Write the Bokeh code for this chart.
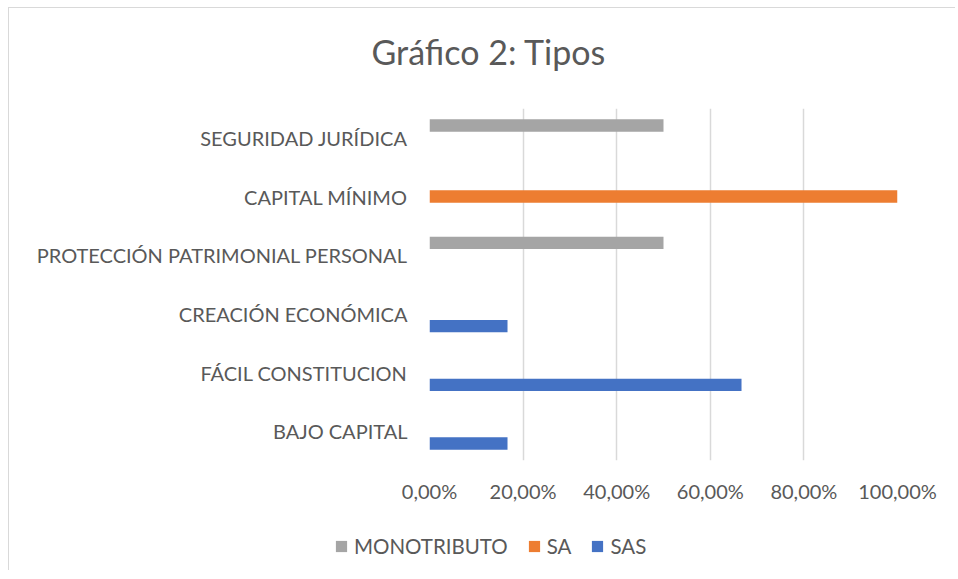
from bokeh.plotting import figure
from bokeh.layouts import column, row
from bokeh.models import ColumnDataSource, FactorRange, Range1d, FixedTicker, Legend, LegendItem, Title
from bokeh.transform import dodge
from bokeh.embed import file_html
from bokeh.resources import INLINE

categories = ["BAJO CAPITAL", "FÁCIL CONSTITUCION", "CREACIÓN ECONÓMICA",
              "PROTECCIÓN PATRIMONIAL PERSONAL", "CAPITAL MÍNIMO", "SEGURIDAD JURÍDICA"]
sas = [16.67, 66.67, 16.67, 0, 0, 0]
sa = [0, 0, 0, 0, 100, 0]
monotributo = [0, 0, 0, 50, 0, 50]
series_names = ["MONOTRIBUTO", "SA", "SAS"]
series_colors = ["#A5A5A5", "#ED7D31", "#4472C4"]
tick_values = [0, 20, 40, 60, 80, 100]
tick_labels = ["0,00%", "20,00%", "40,00%", "60,00%", "80,00%", "100,00%"]
title_text = "Gráfico 2: Tipos"

FONT = "Lato"
TXT = "#595959"

src = ColumnDataSource(dict(cat=categories, SAS=sas, SA=sa, MONOTRIBUTO=monotributo))

p = figure(width=946, height=502, y_range=FactorRange(*categories), x_range=Range1d(0, 100),
           output_backend="svg", toolbar_location=None, title=None,
           min_border_left=420, min_border_right=58, min_border_top=98, min_border_bottom=50)
p.outline_line_color = None

bar_h = 0.21
offsets = [bar_h, 0.0, -bar_h]
for name, color, off in zip(series_names, series_colors, offsets):
    p.hbar(y=dodge("cat", off, range=p.y_range), right=name, left=0, height=bar_h,
           source=src, fill_color=color, line_color=None)

p.xaxis.ticker = FixedTicker(ticks=tick_values)
p.xaxis.major_label_overrides = {v: l for v, l in zip(tick_values, tick_labels)}
for ax in (p.xaxis, p.yaxis):
    ax.axis_line_color = None
    ax.major_tick_line_color = None
    ax.minor_tick_line_color = None
    ax.major_label_text_font = FONT
    ax.major_label_text_font_size = "20px"
    ax.major_label_text_color = TXT
p.xaxis.major_label_standoff = 12
p.yaxis.major_label_standoff = 16

p.xgrid.grid_line_color = "#D9D9D9"
p.xgrid.grid_line_width = 1.5
p.ygrid.grid_line_color = None

# spacer between title and frame (closest to the frame), then the title
p.add_layout(Title(text=" ", text_font_size="1px", standoff=14), "above")
p.add_layout(Title(text=title_text, align="left", offset=-58, standoff=40,
                   text_font=FONT, text_font_size="34px", text_color=TXT,
                   text_font_style="normal"), "above")

# legend strip
lg = figure(width=946, height=60, x_range=Range1d(0, 1), y_range=Range1d(0, 1),
            output_backend="svg", toolbar_location=None, title=None,
            x_axis_type=None, y_axis_type=None,
            min_border_left=0, min_border_right=0, min_border_top=0, min_border_bottom=0)
lg.outline_line_color = None
lg.xgrid.visible = False
lg.ygrid.visible = False
dummy = ColumnDataSource(dict(y=[0.5], right=[0]))
items = []
for name, color in zip(series_names, series_colors):
    r = lg.hbar(y="y", right="right", left=0, height=0.5, source=dummy,
                fill_color=color, line_color=None)
    items.append(LegendItem(label=name, renderers=[r]))
legend = Legend(items=items, orientation="horizontal", location=(325, 12),
                glyph_width=14, glyph_height=14, label_standoff=6, spacing=19,
                padding=0, margin=0, border_line_color=None, background_fill_alpha=0,
                label_text_font=FONT, label_text_font_size="20.5px", label_text_color=TXT)
lg.add_layout(legend, "center")

layout = column(p, row(lg), spacing=0)
layout.styles = {"margin-left": "8px", "margin-top": "7px",
                 "border-left": "1.5px solid #D9D9D9", "border-top": "1.5px solid #D9D9D9"}

open("out.html", "w").write(file_html(layout, INLINE))
